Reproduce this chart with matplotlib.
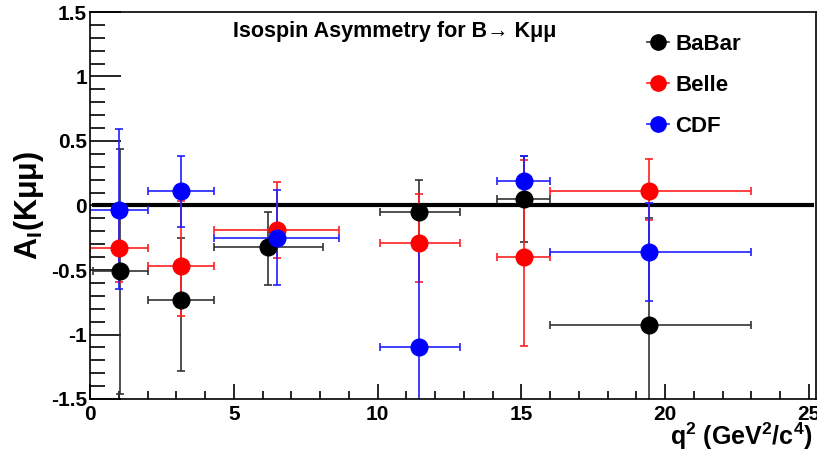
import numpy as np
import matplotlib
matplotlib.use('Agg')
import matplotlib.pyplot as plt
from matplotlib.ticker import MultipleLocator, FormatStrFormatter
from matplotlib.lines import Line2D

plt.rcParams['font.family'] = ['Liberation Sans', 'DejaVu Sans']
plt.rcParams['font.weight'] = 'bold'
plt.rcParams['axes.unicode_minus'] = False
plt.rcParams['mathtext.fontset'] = 'custom'
plt.rcParams['mathtext.rm'] = 'Liberation Sans:bold'
plt.rcParams['mathtext.it'] = 'Liberation Sans:bold'
plt.rcParams['mathtext.bf'] = 'Liberation Sans:bold'
plt.rcParams['mathtext.default'] = 'regular'

# Dados: q2 (centro e limites do bin) e assimetria com erros
babar_x = [1.05, 3.15, 6.2, 11.45, 15.1, 19.45]
babar_xlo = [0.1, 2.0, 4.3, 10.1, 14.17, 16.0]
babar_xhi = [2.0, 4.3, 8.1, 12.86, 16.0, 23.0]
babar_y = [-0.51, -0.73, -0.32, -0.05, 0.05, -0.93]
babar_yup = [0.44, -0.25, -0.05, 0.20, 0.38, -0.10]
babar_ydn = [-1.46, -1.28, -0.62, -0.30, -0.28, -1.80]

belle_x = [1.0, 3.15, 6.5, 11.45, 15.1, 19.45]
belle_xlo = [0.0, 2.0, 4.3, 10.1, 14.17, 16.0]
belle_xhi = [2.0, 4.3, 8.66, 12.86, 16.0, 23.0]
belle_y = [-0.33, -0.47, -0.19, -0.29, -0.40, 0.11]
belle_yup = [-0.07, 0.035, 0.18, 0.09, 0.35, 0.36]
belle_ydn = [-0.59, -0.86, -0.41, -0.59, -1.09, -0.11]

cdf_x = [1.0, 3.15, 6.5, 11.45, 15.1, 19.45]
cdf_xlo = [0.0, 2.0, 4.3, 10.1, 14.17, 16.0]
cdf_xhi = [2.0, 4.3, 8.66, 12.86, 16.0, 23.0]
cdf_y = [-0.035, 0.11, -0.25, -1.10, 0.19, -0.36]
cdf_yup = [0.59, 0.38, 0.12, -0.32, 0.38, 0.02]
cdf_ydn = [-0.65, -0.165, -0.62, -1.80, 0.0, -0.74]

series = [
    ('BaBar', babar_x, babar_xlo, babar_xhi, babar_y, babar_yup, babar_ydn, 'black', '#333333'),
    ('Belle', belle_x, belle_xlo, belle_xhi, belle_y, belle_yup, belle_ydn, '#ff0000', '#ff2020'),
    ('CDF', cdf_x, cdf_xlo, cdf_xhi, cdf_y, cdf_yup, cdf_ydn, '#0000ff', '#2020ff'),
]

fig = plt.figure(figsize=(8.17, 4.51), dpi=100)
ax = fig.add_axes([90 / 817, 1 - 399 / 451, 726 / 817, 387 / 451])

ax.plot([0.15, 25.1], [0, 0], color='black', lw=3, zorder=1)

handles = []
for nome, x, xlo, xhi, y, yup, ydn, cor, cor_err in series:
    x = np.array(x); y = np.array(y)
    xerr = [x - np.array(xlo), np.array(xhi) - x]
    yerr = [y - np.array(ydn), np.array(yup) - y]
    ax.errorbar(x, y, xerr=xerr, yerr=yerr, fmt='none', ecolor=cor_err,
                elinewidth=1.2, capsize=3, capthick=1.2, zorder=2)
    ax.plot(x, y, 'o', color=cor, ms=12, zorder=3)
    handles.append(Line2D([], [], color=cor_err, lw=1.2, marker='o', ms=11, mfc=cor, mec=cor))

ax.set_xlim(0, 25.25)
ax.set_ylim(-1.5, 1.5)
ax.xaxis.set_major_locator(MultipleLocator(5))
ax.xaxis.set_minor_locator(MultipleLocator(1))
ax.yaxis.set_major_locator(MultipleLocator(0.5))
ax.yaxis.set_minor_locator(MultipleLocator(0.1))
ax.yaxis.set_major_formatter(FormatStrFormatter('%g'))
ax.tick_params(axis='y', which='major', direction='in', length=22, width=1.2,
               labelsize=15, pad=2, right=False)
ax.tick_params(axis='y', which='minor', direction='in', length=11, width=1.2, right=False)
ax.tick_params(axis='x', which='major', direction='in', length=11, width=1.2,
               labelsize=15, pad=4, top=False)
ax.tick_params(axis='x', which='minor', direction='in', length=6, width=1.2, top=False)
for s in ax.spines.values():
    s.set_linewidth(1.2)

ax.set_ylabel('A$_\\mathregular{I}$(Kμμ)', fontsize=22, fontweight='bold', labelpad=4)
ax.set_xlabel('q$^{2}$ (GeV$^{2}$/c$^{4}$)', fontsize=18, fontweight='bold', loc='right', labelpad=0)
ax.xaxis.set_label_coords(0.995, -0.055)

ax.text(0.42, 0.95, 'Isospin Asymmetry for B→ Kμμ', transform=ax.transAxes,
        ha='center', va='center', fontsize=15.5, fontweight='bold')

ax.legend(handles, ['BaBar', 'Belle', 'CDF'], loc='upper left', bbox_to_anchor=(0.74, 0.995),
          frameon=False, fontsize=16, handlelength=1.0, handletextpad=0.25,
          labelspacing=0.9)

plt.savefig('out.png', dpi=100)
